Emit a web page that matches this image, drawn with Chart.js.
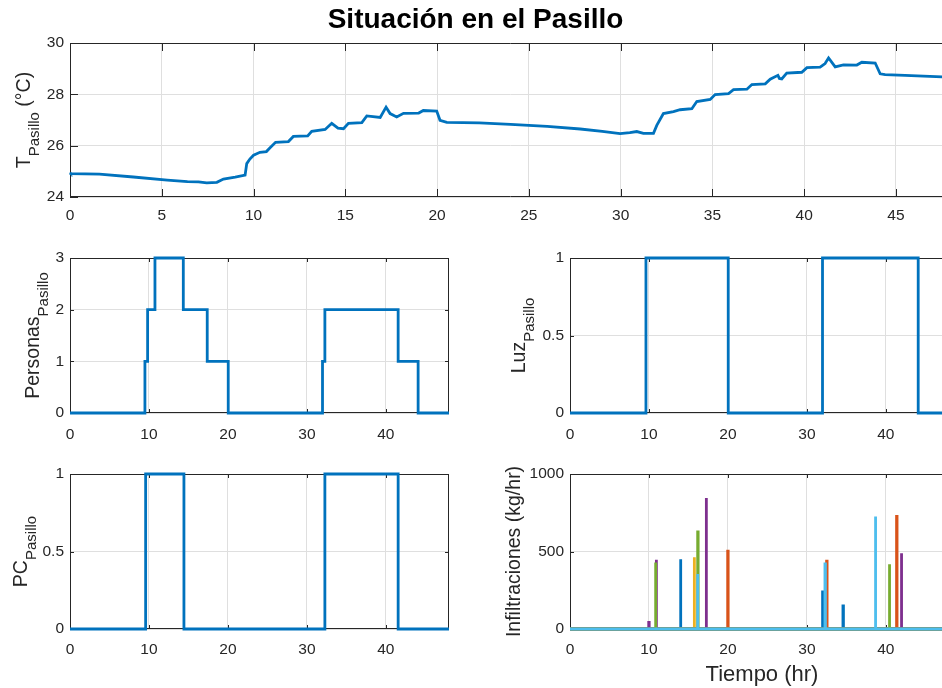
<!DOCTYPE html>
<html>
<head>
<meta charset="utf-8">
<title>Situación en el Pasillo</title>
<script src="https://cdn.jsdelivr.net/npm/chart.js@4.4.1/dist/chart.umd.min.js"></script>
<style>
  html, body { margin: 0; padding: 0; background: #fff; overflow: hidden; }
  #fig { position: relative; width: 942px; height: 688px; overflow: hidden; background: #fff; }
  #fig canvas { position: absolute; }
</style>
</head>
<body>
<div id="fig">
  <canvas id="c-temp"></canvas>
  <canvas id="c-pers"></canvas>
  <canvas id="c-luz"></canvas>
  <canvas id="c-pc"></canvas>
  <canvas id="c-inf"></canvas>
</div>
<script>
// ── Datos ────────────────────────────────────────────────────────────────────

const T_TIME = [0, 0.05, 1.6, 3.45, 5.3, 6.4, 7.0, 7.45, 8.0, 8.36, 9.0, 9.54,
  9.63, 9.8, 10.0, 10.35, 10.7, 10.9, 11.2, 11.9, 12.17, 12.95, 13.17, 13.9,
  14.26, 14.6, 14.9, 15.17, 15.9, 16.17, 16.9, 17.22, 17.44, 17.8, 18.17, 19.0,
  19.25, 19.98, 20.16, 20.53, 22.3, 24.0, 25.0, 26.0, 27.8, 29.0, 29.97,
  30.5, 30.88, 31.24, 31.79, 31.97, 32.33, 32.88, 33.24, 33.88, 34.15, 34.88,
  35.15, 35.88, 36.15, 36.88, 37.15, 37.88, 38.15, 38.57, 38.65, 38.78, 39.05,
  39.87, 40.15, 40.87, 41.14, 41.33, 41.69, 42.14, 42.87, 43.14, 43.87, 44.14,
  44.41, 45.5, 46.5, 47.52, 48];
const T_PASILLO = [24.95, 24.91, 24.89, 24.78, 24.66, 24.60, 24.59, 24.55, 24.57,
  24.70, 24.77, 24.85,
  25.30, 25.48, 25.63, 25.74, 25.77, 25.92, 26.13, 26.16, 26.36, 26.38, 26.56, 26.63,
  26.87, 26.68, 26.66, 26.87, 26.90, 27.16, 27.10, 27.50, 27.25, 27.12, 27.26, 27.27,
  27.37, 27.35, 26.99, 26.91, 26.89, 26.83, 26.79, 26.75, 26.65, 26.56, 26.47,
  26.51, 26.55, 26.48, 26.48, 26.79, 27.25, 27.33, 27.40, 27.44, 27.72, 27.80,
  27.99, 28.03, 28.18, 28.20, 28.38, 28.41, 28.59, 28.74, 28.62, 28.60, 28.83,
  28.86, 29.04, 29.06, 29.20, 29.42, 29.07, 29.15, 29.14, 29.25, 29.22, 28.80,
  28.77, 28.74, 28.71, 28.68, 28.66];

// escalones: el valor se mantiene desde cada instante hasta el siguiente
const PERS_TIME = [0, 9.49, 9.83, 10.76, 14.35, 17.38, 20.04, 31.98, 32.28, 41.56, 44.09, 48];
const PERS_VAL  = [0, 1, 2, 3, 2, 1, 0, 1, 2, 1, 0, 0];

const LUZ_TIME = [0, 9.62, 20.04, 31.98, 44.1, 48];
const LUZ_VAL  = [0, 1, 0, 1, 0, 0];

const PC_TIME = [0, 9.58, 14.43, 32.28, 41.56, 48];
const PC_VAL  = [0, 1, 0, 1, 0, 0];

// infiltraciones: picos (instante, kg/hr) por cada serie
const INF_SERIES = ['s1', 's2', 's3', 's4', 's5', 's6'];
const INF_COLORS = ['#0072BD', '#D95319', '#EDB120', '#7E2F8E', '#77AC30', '#4DBEEE'];
const INF_TIME = [
  [14.01, 31.98, 34.6],
  [20.0, 32.53, 41.39],
  [15.74],
  [10.0, 10.93, 17.26, 41.98],
  [10.84, 16.2, 40.46],
  [16.17, 32.32, 38.69],
];
const INF_VAL = [
  [450, 248, 149],
  [502, 438, 726],
  [463],
  [43, 446, 845, 489],
  [429, 627, 418],
  [355, 420, 726],
];

const X_TICKS_TOP = [0, 5, 10, 15, 20, 25, 30, 35, 40, 45];
const X_TICKS     = [0, 10, 20, 30, 40];
const Y_TICKS_T   = [24, 26, 28, 30];
const Y_TICKS_P   = [0, 1, 2, 3];
const Y_TICKS_ON  = [0, 0.5, 1];
const Y_TICKS_INF = [0, 500, 1000];

// ── Estilo ───────────────────────────────────────────────────────────────────

const FONT = "'Liberation Sans', Arial, Helvetica, sans-serif";
const AX_COLOR = '#262626';
const GRID_COLOR = '#dfdfdf';
const BLUE = '#0072BD';
const LINE_W = 2.8;
const PULSE_W = 0.03;

const pts = (xs, ys) => xs.map((x, i) => ({ x, y: ys[i] }));

function pulses(times, vals) {
  const out = [{ x: 0, y: 0 }];
  times.forEach((t, i) => {
    out.push({ x: t - PULSE_W, y: 0 }, { x: t - PULSE_W, y: vals[i] },
             { x: t + PULSE_W, y: vals[i] }, { x: t + PULSE_W, y: 0 });
  });
  out.push({ x: 48, y: 0 });
  return out;
}

// ── Plugin: caja, ticks hacia dentro y etiquetas estilo MATLAB ───────────────

function drawYLabel(ctx, lab) {
  const fMain = `${lab.size}px ${FONT}`;
  const fSub  = `${lab.subSize}px ${FONT}`;
  ctx.save();
  ctx.fillStyle = AX_COLOR;
  ctx.textAlign = 'left';
  ctx.textBaseline = 'alphabetic';
  ctx.font = fMain;
  const w1 = ctx.measureText(lab.main).width;
  const w3 = lab.rest ? ctx.measureText(lab.rest).width : 0;
  ctx.font = fSub;
  const w2 = lab.sub ? ctx.measureText(lab.sub).width : 0;
  ctx.translate(lab.x, lab.cy);
  ctx.rotate(-Math.PI / 2);
  let pos = -(w1 + w2 + w3) / 2;
  ctx.font = fMain; ctx.fillText(lab.main, pos, 0); pos += w1;
  if (lab.sub) { ctx.font = fSub; ctx.fillText(lab.sub, pos, lab.drop); pos += w2; }
  if (lab.rest) { ctx.font = fMain; ctx.fillText(lab.rest, pos, 0); }
  ctx.restore();
}

const matlabAxes = {
  id: 'matlabAxes',
  beforeDatasetsDraw(chart, args, o) {
    const { ctx, chartArea: a, scales: { x, y } } = chart;
    const L = o.tickLen;
    ctx.save();
    ctx.strokeStyle = AX_COLOR;
    ctx.lineWidth = 1;
    ctx.beginPath();
    x.ticks.forEach(t => {
      const px = Math.round(x.getPixelForValue(t.value)) + 0.5;
      ctx.moveTo(px, a.bottom); ctx.lineTo(px, a.bottom - L);
      ctx.moveTo(px, a.top);    ctx.lineTo(px, a.top + L);
    });
    y.ticks.forEach(t => {
      const py = Math.round(y.getPixelForValue(t.value)) + 0.5;
      ctx.moveTo(a.left, py);  ctx.lineTo(a.left + L, py);
      ctx.moveTo(a.right, py); ctx.lineTo(a.right - L, py);
    });
    ctx.rect(a.left + 0.5, a.top + 0.5, a.right - a.left - 1, a.bottom - a.top - 1);
    ctx.stroke();
    ctx.restore();
  },
  afterDraw(chart, args, o) {
    const { ctx } = chart;
    if (o.ylabel) drawYLabel(ctx, o.ylabel);
    if (o.xlabel) {
      ctx.save();
      ctx.fillStyle = AX_COLOR;
      ctx.font = `${o.xlabel.size}px ${FONT}`;
      ctx.textAlign = 'center';
      ctx.textBaseline = 'middle';
      ctx.fillText(o.xlabel.text, o.xlabel.x, o.xlabel.y);
      ctx.restore();
    }
  },
};

// ── Construcción de cada eje ─────────────────────────────────────────────────

// box: posición del canvas en la figura; area: rectángulo del eje en la figura
function makeAxes(id, box, area, cfg) {
  const cv = document.getElementById(id);
  cv.width = box.w; cv.height = box.h;
  cv.style.left = box.x + 'px'; cv.style.top = box.y + 'px';
  cv.style.width = box.w + 'px'; cv.style.height = box.h + 'px';

  const yAxisW = area.left - box.x;
  const xAxisH = box.y + box.h - area.bottom;
  const padTop = cfg.title ? 0 : area.top - box.y;
  const padRight = box.x + box.w - area.right;

  const tickFont = { family: FONT, size: 15.5 };
  const ylabel = cfg.ylabel ? Object.assign({}, cfg.ylabel, {
    x: cfg.ylabel.x - box.x,
    cy: (area.top + area.bottom) / 2 - box.y,
  }) : null;
  const xlabel = cfg.xlabel ? Object.assign({}, cfg.xlabel, {
    x: cfg.xlabel.x - box.x,
    y: cfg.xlabel.y - box.y,
  }) : null;

  return new Chart(cv, {
    type: 'line',
    data: { datasets: cfg.datasets },
    options: {
      responsive: false,
      animation: false,
      devicePixelRatio: 1,
      layout: { padding: { top: padTop, right: padRight, bottom: 0, left: 0 } },
      elements: { point: { radius: 0 }, line: { tension: 0 } },
      plugins: {
        legend: { display: false },
        tooltip: { enabled: false },
        title: cfg.title ? {
          display: true,
          text: cfg.title,
          color: '#000',
          font: { family: FONT, size: 28, weight: 'bold', lineHeight: 1.2 },
          padding: { top: 3.7, bottom: area.top - box.y - 3.7 - 33.6 },
        } : { display: false },
        matlabAxes: { tickLen: cfg.tickLen, ylabel, xlabel },
      },
      scales: {
        x: {
          type: 'linear',
          min: 0, max: 48,
          afterBuildTicks: s => { s.ticks = cfg.xTicks.map(v => ({ value: v })); },
          afterFit: s => { s.height = xAxisH; },
          grid: { color: GRID_COLOR, lineWidth: 1, drawTicks: false },
          border: { display: false },
          ticks: { color: AX_COLOR, font: tickFont, padding: cfg.xPad, maxRotation: 0,
                   callback: v => String(v) },
        },
        y: {
          type: 'linear',
          min: cfg.yMin, max: cfg.yMax,
          afterBuildTicks: s => { s.ticks = cfg.yTicks.map(v => ({ value: v })); },
          afterFit: s => { s.width = yAxisW; },
          grid: { color: GRID_COLOR, lineWidth: 1, drawTicks: false },
          border: { display: false },
          ticks: { color: AX_COLOR, font: tickFont, padding: 6, callback: v => String(v) },
        },
      },
    },
    plugins: [matlabAxes],
  });
}

const lineDs = (data, color, stepped) => ({
  data, borderColor: color, borderWidth: LINE_W, stepped: stepped || false,
  pointRadius: 0, fill: false, clip: 4,
});

// ── Figura ───────────────────────────────────────────────────────────────────

const LAB = { size: 19.5, subSize: 15, drop: 9 };

makeAxes('c-temp',
  { x: 0, y: 0, w: 1032, h: 232 },
  { left: 70, top: 43, right: 951, bottom: 197 },
  {
    title: 'Situación en el Pasillo',
    datasets: [lineDs(pts(T_TIME, T_PASILLO), BLUE)],
    xTicks: X_TICKS_TOP, yTicks: Y_TICKS_T, yMin: 24, yMax: 30,
    xPad: 9, tickLen: 8,
    ylabel: Object.assign({ main: 'T', sub: 'Pasillo', rest: ' (°C)', x: 30 }, LAB),
  });

makeAxes('c-pers',
  { x: 0, y: 232, w: 480, h: 218 },
  { left: 70, top: 258, right: 449, bottom: 413 },
  {
    datasets: [lineDs(pts(PERS_TIME, PERS_VAL), BLUE, 'before')],
    xTicks: X_TICKS, yTicks: Y_TICKS_P, yMin: 0, yMax: 3,
    xPad: 12, tickLen: 4,
    ylabel: Object.assign({ main: 'Personas', sub: 'Pasillo', x: 39 }, LAB),
  });

makeAxes('c-luz',
  { x: 480, y: 232, w: 480, h: 218 },
  { left: 570, top: 258, right: 949, bottom: 413 },
  {
    datasets: [lineDs(pts(LUZ_TIME, LUZ_VAL), BLUE, 'before')],
    xTicks: X_TICKS, yTicks: Y_TICKS_ON, yMin: 0, yMax: 1,
    xPad: 12, tickLen: 4,
    ylabel: Object.assign({ main: 'Luz', sub: 'Pasillo', x: 525 }, LAB),
  });

makeAxes('c-pc',
  { x: 0, y: 450, w: 480, h: 238 },
  { left: 70, top: 474, right: 449, bottom: 629 },
  {
    datasets: [lineDs(pts(PC_TIME, PC_VAL), BLUE, 'before')],
    xTicks: X_TICKS, yTicks: Y_TICKS_ON, yMin: 0, yMax: 1,
    xPad: 11, tickLen: 4,
    ylabel: Object.assign({ main: 'PC', sub: 'Pasillo', x: 26.5 }, LAB),
  });

// en Chart.js el orden menor se dibuja encima: la última serie queda arriba, como en MATLAB
makeAxes('c-inf',
  { x: 480, y: 450, w: 480, h: 238 },
  { left: 570, top: 474, right: 949, bottom: 629 },
  {
    datasets: INF_SERIES.map((name, i) =>
      Object.assign(lineDs(pulses(INF_TIME[i], INF_VAL[i]), INF_COLORS[i]),
                    { label: name, order: INF_SERIES.length - i })),
    xTicks: X_TICKS, yTicks: Y_TICKS_INF, yMin: 0, yMax: 1000,
    xPad: 11, tickLen: 4,
    ylabel: { main: 'Infiltraciones (kg/hr)', size: 19.5, x: 519.5 },
    xlabel: { text: 'Tiempo (hr)', size: 22, x: 762, y: 675 },
  });
</script>
</body>
</html>
